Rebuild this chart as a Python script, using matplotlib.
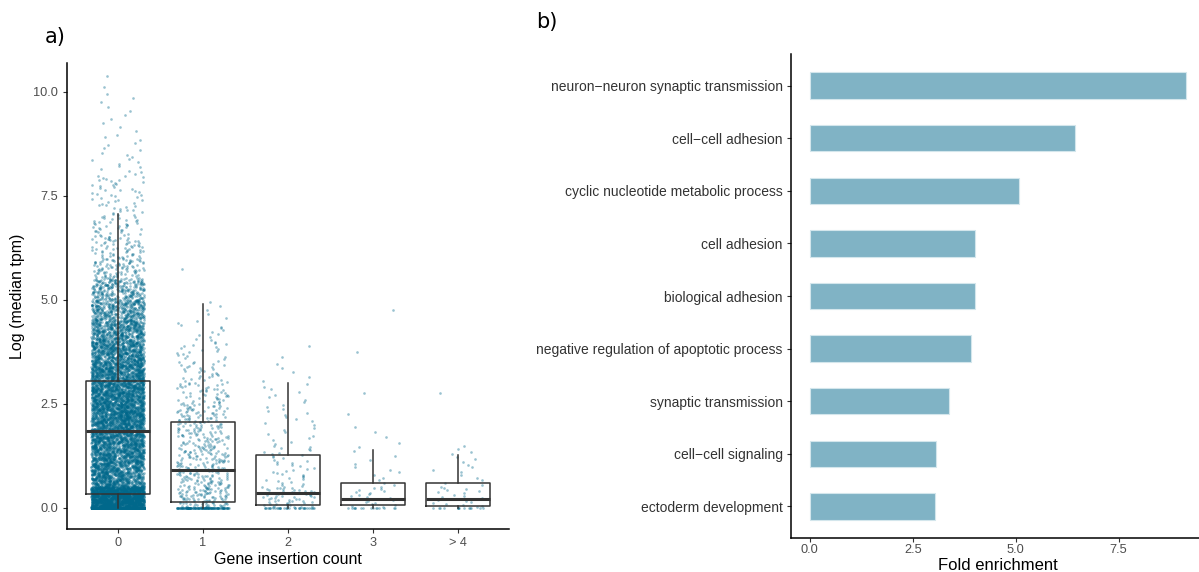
#!/usr/bin/env python3
"""Expression by gene insertion count (a) and GO term fold enrichment (b)."""

import matplotlib
matplotlib.use("Agg")
import matplotlib.pyplot as plt
import numpy as np

plt.rcParams["font.family"] = ["Liberation Sans", "DejaVu Sans"]

# --- panel a: log(median tpm) by gene insertion count -----------------------
groups = ["0", "1", "2", "3", "> 4"]

# box statistics per group: lower whisker, q1, median, q3, upper whisker
whisk_lo = [0.0, 0.0, 0.0, 0.0, 0.0]
q1 = [0.32, 0.14, 0.05, 0.05, 0.03]
median = [1.84, 0.91, 0.35, 0.20, 0.20]
q3 = [3.04, 2.05, 1.26, 0.60, 0.58]
whisk_hi = [7.07, 4.90, 2.99, 1.39, 1.27]

# genes with exactly zero expression, then counts in 0.5-wide bins from 0
bin_width = 0.5
zero_counts = [1500, 130, 35, 15, 14]
bin_counts_0 = [2100, 800, 850, 900, 1000, 950, 850, 700, 550, 400, 250,
                100, 60, 40, 25, 25, 12, 8, 5, 5, 2]
bin_counts_1 = [110, 90, 80, 70, 65, 45, 30, 20, 12, 5, 0, 1]
bin_counts_2 = [55, 20, 18, 10, 10, 8, 5, 2]
bin_counts_3 = [22, 8, 5, 4, 1, 1, 0, 1, 0, 1]
bin_counts_4 = [20, 8, 8, 0, 0, 1]
bin_counts = [bin_counts_0, bin_counts_1, bin_counts_2, bin_counts_3, bin_counts_4]

# --- panel b: GO enrichment ---------------------------------------------------
go_terms = [
    "neuron\u2212neuron synaptic transmission",
    "cell\u2212cell adhesion",
    "cyclic nucleotide metabolic process",
    "cell adhesion",
    "biological adhesion",
    "negative regulation of apoptotic process",
    "synaptic transmission",
    "cell\u2212cell signaling",
    "ectoderm development",
]
fold_enrichment = [9.14, 6.43, 5.08, 4.00, 4.00, 3.92, 3.39, 3.07, 3.05]

POINT = "#00688B"
BAR = "#80B3C5"
TICK = "#4D4D4D"


def group_values(zeros, counts):
    vals = [0.0] * zeros
    for i, n in enumerate(counts):
        lo = i * bin_width
        vals.extend(lo + (k + 0.5) / n * bin_width for k in range(n))
    return np.array(vals)


def style_axes(ax):
    for side in ("top", "right"):
        ax.spines[side].set_visible(False)
    for side in ("left", "bottom"):
        ax.spines[side].set_linewidth(1.1)
        ax.spines[side].set_color("black")
    ax.tick_params(length=3, width=0.8, color="#333333", labelcolor=TICK,
                   labelsize=9.2, pad=3)


fig = plt.figure(figsize=(11.99, 5.72), dpi=100)

ax1 = fig.add_axes([0.0556, 0.0757, 0.3691, 0.8136])
# horizontal jitter only, like geom_jitter(height = 0)
jitter = np.random.default_rng(7)
for gi, (zeros, counts) in enumerate(zip(zero_counts, bin_counts)):
    y = group_values(zeros, counts)
    x = gi + 1 + jitter.uniform(-0.31, 0.31, len(y))
    ax1.scatter(x, y, s=3.6, color=POINT, alpha=0.4, linewidths=0, zorder=1)

stats = [
    dict(whislo=whisk_lo[i], q1=q1[i], med=median[i], q3=q3[i],
         whishi=whisk_hi[i], fliers=[])
    for i in range(len(groups))
]
ax1.bxp(stats, positions=range(1, len(groups) + 1), widths=0.75,
        showcaps=False, showfliers=False, patch_artist=False,
        boxprops=dict(color="#333333", linewidth=1.1),
        whiskerprops=dict(color="#333333", linewidth=1.1),
        medianprops=dict(color="#333333", linewidth=2.2),
        zorder=3)

ax1.set_xlim(0.4, 5.6)
ax1.set_ylim(-0.51, 10.69)
ax1.set_xticks(range(1, len(groups) + 1))
ax1.set_xticklabels(groups)
ax1.set_yticks([0, 2.5, 5, 7.5, 10])
ax1.set_yticklabels(["0.0", "2.5", "5.0", "7.5", "10.0"])
ax1.set_xlabel("Gene insertion count", fontsize=11.5, labelpad=2)
ax1.set_ylabel("Log (median tpm)", fontsize=11.5, labelpad=6)
style_axes(ax1)

ax2 = fig.add_axes([0.6597, 0.0594, 0.3403, 0.8462])
ypos = np.arange(len(go_terms))[::-1] + 1
ax2.barh(ypos, fold_enrichment, height=0.5, color=BAR,
         edgecolor="#D3E6EC", linewidth=0.8)
ax2.set_yticks(ypos)
ax2.set_yticklabels(go_terms)
ax2.set_ylim(0.4, len(go_terms) + 0.6)
ax2.set_xlim(-0.457, 9.45)
ax2.set_xticks([0, 2.5, 5, 7.5])
ax2.set_xticklabels(["0.0", "2.5", "5.0", "7.5"])
ax2.set_xlabel("Fold enrichment", fontsize=12, va="baseline")
ax2.xaxis.set_label_coords(0.507, -0.0655)
style_axes(ax2)
ax2.tick_params(axis="x", pad=1.5)
ax2.tick_params(axis="y", labelsize=10, labelcolor="#333333")

fig.text(0.037, 0.935, "a)", fontsize=15, family="DejaVu Sans", va="center")
fig.text(0.447, 0.962, "b)", fontsize=15, family="DejaVu Sans", va="center")

fig.savefig("out.png", dpi=100)
